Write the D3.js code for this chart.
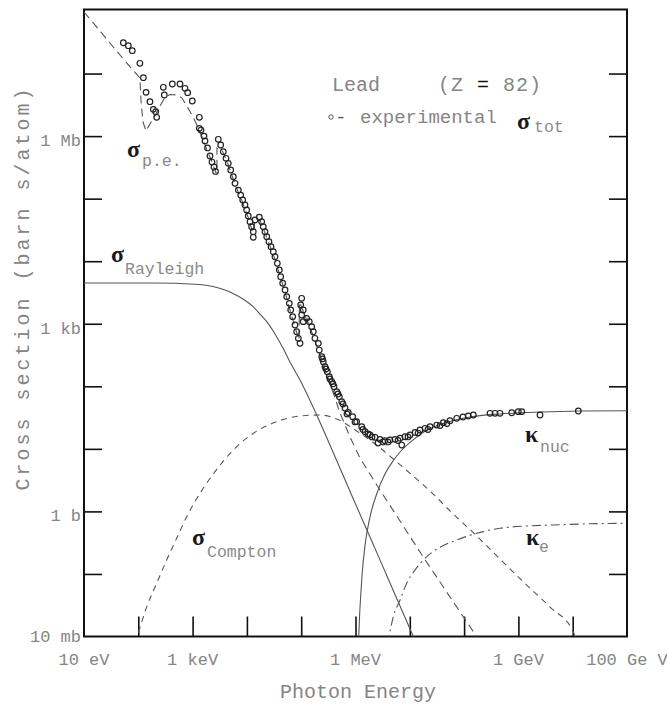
<!DOCTYPE html>
<html>
<head>
<meta charset="utf-8">
<script src="https://cdn.jsdelivr.net/npm/d3@7"></script>
<style>
  body { margin: 0; background: #fff; }
  .chart text { font-family: 'Liberation Mono', monospace; }
</style>
</head>
<body>
<div class="chart"></div>
<script>
// energies in eV, cross sections in barns

const xTicks = [1e2, 1e3, 1e4, 1e5, 1e6, 1e7, 1e8, 1e9, 1e10];
const yTicks = [1e-1, 1, 1e1, 1e2, 1e3, 1e4, 1e5, 1e6, 1e7];
const xLabelValues = [10, 1e3, 1e6, 1e9, 1e11];
const xLabelTexts = ['10 eV', '1 keV', '1 MeV', '1 GeV', '100 Ge V'];
const yLabelValues = [1e6, 1e3, 1, 1e-2];
const yLabelTexts = ['1 Mb', '1 kb', '1 b', '10 mb'];

// experimental total cross section
const sigmaTot = [
  [53.0, 3.11e7], [65.5, 2.79e7], [77.5, 2.32e7], [107, 1.46e7], [124, 8.59e6],
  [139, 5.01e6], [164, 3.55e6], [189, 2.68e6], [209, 2.45e6], [218, 2.00e6],
  [289, 6.03e6], [301, 4.54e6], [423, 6.81e6], [586, 6.81e6], [724, 5.81e6],
  [812, 4.94e6], [987, 3.64e6], [1330, 2.00e6], [1330, 1.33e6], [1429, 1.25e6],
  [1622, 1.00e6], [1692, 8.36e5], [1881, 6.46e5], [2089, 4.81e5], [2276, 3.85e5],
  [2477, 3.21e5], [2642, 2.72e5], [2972, 8.89e5], [3290, 7.21e5], [3674, 5.64e5],
  [4121, 4.42e5], [4539, 3.67e5], [5035, 2.87e5], [5623, 2.24e5], [6039, 1.76e5],
  [6950, 1.37e5], [7691, 1.14e5], [8375, 9.52e4], [9226, 7.92e4], [9908, 6.59e4],
  [1.06e4, 5.28e4], [1.14e4, 4.29e4], [1.22e4, 3.56e4], [1.31e4, 2.96e4], [1.31e4, 2.41e4],
  [1.41e4, 4.56e4], [1.69e4, 5.04e4], [1.87e4, 4.29e4], [2.00e4, 3.56e4], [2.15e4, 2.96e4],
  [2.32e4, 2.47e4], [2.55e4, 2.05e4], [2.78e4, 1.71e4], [3.06e4, 1.42e4], [3.29e4, 1.18e4],
  [3.63e4, 9.25e3], [3.95e4, 7.23e3], [4.19e4, 5.65e3], [4.56e4, 4.44e3], [5.04e4, 3.47e3],
  [5.41e4, 2.71e3], [6.04e4, 2.12e3], [6.41e4, 1.66e3], [6.97e4, 1.30e3], [7.69e4, 955],
  [8.26e4, 746], [8.85e4, 585], [9.51e4, 486], [1.02e5, 2.55e3], [9.79e4, 2.00e3],
  [1.09e5, 1.66e3], [1.02e5, 1.38e3], [1.09e5, 1.08e3], [1.26e5, 1.22e3], [1.41e5, 1.08e3],
  [1.56e5, 897], [1.67e5, 746], [1.79e5, 585], [2.07e5, 486], [2.15e5, 380],
  [2.39e5, 297], [2.47e5, 274], [2.55e5, 247], [2.74e5, 206], [2.86e5, 189],
  [3.03e5, 171], [3.29e5, 143], [3.39e5, 131], [3.65e5, 119], [3.85e5, 109],
  [4.02e5, 98.6], [4.51e5, 82.0], [4.76e5, 75.3], [5.04e5, 68.2], [5.57e5, 56.8],
  [5.89e5, 52.1], [6.41e5, 45.0], [6.97e5, 36.1], [7.36e5, 38.1], [8.87e5, 32.7],
  [9.79e5, 26.9], [1.05e6, 27.2], [1.30e6, 22.6], [1.37e6, 20.4], [1.50e6, 18.8],
  [1.70e6, 17.3], [1.85e6, 16.7], [2.01e6, 15.5], [2.29e6, 15.3], [2.82e6, 14.2],
  [3.21e6, 12.9], [3.49e6, 13.5], [3.97e6, 12.9], [4.32e6, 13.9], [5.33e6, 14.2],
  [6.07e6, 13.6], [6.61e6, 14.8], [8.17e6, 15.6], [9.27e6, 15.5], [1.01e7, 16.7],
  [1.25e7, 18.3], [1.42e7, 17.9], [1.54e7, 20.0], [1.91e7, 21.3], [2.16e7, 20.4],
  [2.36e7, 22.6], [3.13e7, 24.0], [3.60e7, 23.6], [4.14e7, 26.2], [4.84e7, 25.4],
  [5.50e7, 28.2], [7.31e7, 30.8], [9.55e7, 32.3], [1.19e8, 33.5], [1.48e8, 34.8],
  [3.00e8, 37.0], [3.71e8, 37.0], [4.58e8, 37.0], [7.53e8, 37.8], [9.95e8, 39.3],
  [1.15e9, 39.3], [2.50e9, 34.8], [1.27e10, 40.3], [2.60e6, 12.4], [7.10e6, 11.5]
];

const photoElectric = [
  [10, 9.64e7], [16.0, 5.97e7], [30.1, 3.08e7], [56.9, 1.59e7], [107, 8.49e6],
  [112, 3.78e6], [122, 1.68e6], [139, 1.21e6], [164, 1.56e6], [212, 2.25e6],
  [251, 3.03e6], [310, 4.22e6], [384, 4.62e6], [516, 4.54e6], [638, 4.06e6],
  [823, 2.81e6], [1020, 2.02e6], [1200, 1.51e6], [1490, 9.68e5], [1840, 6.00e5],
  [2280, 3.85e5], [2700, 2.57e5], [2810, 2.57e5], [2810, 6.46e5], [3480, 6.00e5],
  [4480, 3.58e5], [6040, 1.71e5], [8130, 9.18e4], [1.05e4, 5.09e4], [1.29e4, 2.82e4],
  [1.41e4, 4.56e4], [1.74e4, 4.56e4], [2.15e4, 2.82e4], [2.66e4, 1.75e4], [3.29e4, 1.08e4],
  [4.07e4, 5.81e3], [5.04e4, 3.22e3], [6.22e4, 1.66e3], [7.69e4, 887], [9.10e4, 550],
  [9.31e4, 2.23e3], [1.18e5, 1.33e3], [1.45e5, 887], [1.79e5, 530], [2.22e5, 317],
  [2.74e5, 189], [3.39e5, 109], [4.19e5, 65.0], [5.19e5, 37.4], [7.92e5, 15.5],
  [1.21e6, 7.14], [2.82e6, 2.20], [6.61e6, 0.703], [1.54e7, 0.224], [3.60e7, 0.0743],
  [8.41e7, 0.0247], [1.73e8, 0.00982], [2.0e8, 0.008]
];

const rayleigh = [
  [10, 4.49e3], [164, 4.49e3], [1370, 4.25e3], [2380, 3.94e3], [3950, 3.47e3],
  [5550, 3.05e3], [8470, 2.49e3], [1.29e4, 1.89e3], [1.74e4, 1.43e3], [2.34e4, 1.07e3],
  [3.29e4, 686], [4.62e4, 409], [6.22e4, 245], [9.51e4, 126], [1.93e5, 34.8],
  [3.85e5, 8.91], [8.63e5, 1.76], [1.85e6, 0.390], [4.32e6, 0.0718], [1.15e7, 0.0102],
  [1.3e7, 0.008]
];

const compton = [
  [85, 0.008], [93.5, 0.0098], [143, 0.030], [218, 0.0710], [333, 0.167], [509, 0.372],
  [778, 0.822], [1370, 1.95], [2400, 3.96], [5620, 9.59], [1.31e4, 17.7],
  [3.54e4, 27.2], [9.51e4, 33.5], [2.22e5, 34.8], [4.51e5, 30.0], [1.05e6, 19.3],
  [2.45e6, 11.5], [4.97e6, 6.89], [1.15e7, 3.68], [2.36e7, 2.12], [5.50e7, 1.02],
  [1.71e8, 0.405], [4.58e8, 0.173], [1.42e9, 0.0665], [3.82e9, 0.0296], [1.03e10, 0.0118],
  [1.10e10, 0.0098]
];

const kappaNuc = [
  [1.12e6, 0.006], [1.19e6, 0.0221], [1.24e6, 0.0413], [1.32e6, 0.0962], [1.50e6, 0.290],
  [1.85e6, 0.815], [2.49e6, 1.97], [3.49e6, 3.96], [4.91e6, 6.40], [6.61e6, 8.91],
  [1.15e7, 13.9], [2.07e7, 20.0], [4.45e7, 25.9], [1.29e8, 32.3], [4.58e8, 36.1],
  [2.50e9, 38.8], [1.36e10, 40.3], [1e11, 40.7]
];

const kappaE = [
  [3.9e6, 0.0075], [4.97e6, 0.0207], [6.61e6, 0.0384], [8.77e6, 0.0710], [1.25e7, 0.116],
  [2.05e7, 0.189], [3.60e7, 0.267], [7.31e7, 0.349], [1.71e8, 0.447], [4.58e8, 0.537],
  [1.42e9, 0.585], [4.40e9, 0.607], [1.57e10, 0.630], [1e11, 0.646]
];

const w = 667;
const h = 705;
const padLeft = 84, padRight = 627, padTop = 9.5, padBottom = 636.5;

const svg = d3.select('.chart')
  .append('svg')
  .attr('width', w)
  .attr('height', h);

const x = d3.scaleLog().domain([10, 1e11]).range([padLeft, padRight]);
const y = d3.scaleLog().domain([1e-2, 1.057e8]).range([padBottom, padTop]);

svg.append('clipPath').attr('id', 'plot')
  .append('rect')
  .attr('x', padLeft).attr('y', padTop)
  .attr('width', padRight - padLeft).attr('height', padBottom - padTop);

// ticks (inward)
const tickStyle = (g) => {
  g.select('.domain').remove();
  g.selectAll('.tick line').attr('stroke', '#111').attr('stroke-width', 1.6);
};

svg.append('g')
  .attr('transform', 'translate(0,' + padBottom + ')')
  .call(d3.axisBottom(x).tickValues(xTicks).tickSize(-20).tickFormat(''))
  .call(tickStyle);

svg.append('g')
  .attr('transform', 'translate(' + padLeft + ',0)')
  .call(d3.axisLeft(y).tickValues(yTicks).tickSize(-18).tickFormat(''))
  .call(tickStyle);

svg.append('g')
  .attr('transform', 'translate(' + padRight + ',0)')
  .call(d3.axisRight(y).tickValues(yTicks).tickSize(-18).tickFormat(''))
  .call(tickStyle);

svg.append('rect')
  .attr('x', padLeft).attr('y', padTop)
  .attr('width', padRight - padLeft).attr('height', padBottom - padTop)
  .attr('fill', 'none')
  .attr('stroke', '#111')
  .attr('stroke-width', 2);

// tick labels
svg.selectAll('.xlab')
  .data(xLabelValues)
  .enter()
  .append('text')
  .attr('class', 'xlab')
  .attr('x', (d) => x(d))
  .attr('y', 665)
  .attr('text-anchor', 'middle')
  .attr('font-size', 17)
  .attr('fill', '#858585')
  .text((d, i) => xLabelTexts[i]);

svg.selectAll('.ylab')
  .data(yLabelValues)
  .enter()
  .append('text')
  .attr('class', 'ylab')
  .attr('x', 81)
  .attr('y', (d) => Math.min(y(d) + 10, 642))
  .attr('text-anchor', 'end')
  .attr('font-size', 17)
  .attr('fill', '#858585')
  .text((d, i) => yLabelTexts[i]);

// axis titles
svg.append('text')
  .attr('x', 358)
  .attr('y', 698)
  .attr('text-anchor', 'middle')
  .attr('font-size', 20)
  .attr('fill', '#858585')
  .text('Photon Energy');

svg.append('text')
  .attr('transform', 'translate(29,288) rotate(-90)')
  .attr('text-anchor', 'middle')
  .attr('font-size', 20)
  .attr('letter-spacing', 3)
  .attr('fill', '#858585')
  .text('Cross section (barn s/atom)');

// curves
const plot = svg.append('g').attr('clip-path', 'url(#plot)');

const line = d3.line()
  .x((d) => x(d[0]))
  .y((d) => y(d[1]));

const smooth = d3.line()
  .x((d) => x(d[0]))
  .y((d) => y(d[1]))
  .curve(d3.curveMonotoneX);

plot.append('path')
  .datum(photoElectric)
  .attr('d', line)
  .attr('fill', 'none')
  .attr('stroke', '#555')
  .attr('stroke-width', 1.1)
  .attr('stroke-dasharray', '8,5');

plot.append('path')
  .datum(rayleigh)
  .attr('d', smooth)
  .attr('fill', 'none')
  .attr('stroke', '#555')
  .attr('stroke-width', 1.1);

plot.append('path')
  .datum(compton)
  .attr('d', smooth)
  .attr('fill', 'none')
  .attr('stroke', '#555')
  .attr('stroke-width', 1.1)
  .attr('stroke-dasharray', '6,5');

plot.append('path')
  .datum(kappaNuc)
  .attr('d', smooth)
  .attr('fill', 'none')
  .attr('stroke', '#555')
  .attr('stroke-width', 1.1);

plot.append('path')
  .datum(kappaE)
  .attr('d', smooth)
  .attr('fill', 'none')
  .attr('stroke', '#555')
  .attr('stroke-width', 1.1)
  .attr('stroke-dasharray', '9,4,2,4');

plot.selectAll('circle')
  .data(sigmaTot)
  .enter()
  .append('circle')
  .attr('class', 'dot')
  .attr('r', 2.8)
  .attr('cx', (d) => x(d[0]))
  .attr('cy', (d) => y(d[1]))
  .attr('fill', 'none')
  .attr('stroke', '#222')
  .attr('stroke-width', 1.2);

// curve labels: greek letter + subscript
const curveLabel = (px, py, greek, sub, subDx, subDy) => {
  svg.append('text')
    .attr('x', px)
    .attr('y', py)
    .attr('font-size', 24)
    .attr('font-weight', 'bold')
    .style('font-family', 'Liberation Serif, serif')
    .attr('fill', '#1a1a1a')
    .text(greek);
  svg.append('text')
    .attr('x', px + subDx)
    .attr('y', py + subDy)
    .attr('font-size', 16.5)
    .attr('fill', '#8a8a8a')
    .text(sub);
};

curveLabel(127, 157, 'σ', 'p.e.', 15, 9);
curveLabel(111, 262, 'σ', 'Rayleigh', 14, 12);
curveLabel(192, 545, 'σ', 'Compton', 15, 12);
curveLabel(525, 442, 'κ', 'nuc', 15, 10);
curveLabel(526, 545, 'κ', 'e', 13, 7);
curveLabel(517, 129, 'σ', 'tot', 17, 3);

// legend text
svg.append('text')
  .attr('x', 332)
  .attr('y', 91)
  .attr('font-size', 20)
  .attr('fill', '#858585')
  .text('Lead');

const zText = svg.append('text')
  .attr('x', 438)
  .attr('y', 91)
  .attr('font-size', 20)
  .attr('letter-spacing', 1)
  .attr('fill', '#858585');
zText.append('tspan').text('(Z ');
zText.append('tspan').attr('fill', '#111').text('=');
zText.append('tspan').text(' 82)');

svg.append('circle')
  .attr('cx', 331)
  .attr('cy', 117)
  .attr('r', 2.2)
  .attr('fill', 'none')
  .attr('stroke', '#555');

svg.append('text')
  .attr('x', 335)
  .attr('y', 123)
  .attr('font-size', 19)
  .attr('fill', '#555')
  .text('-');

svg.append('text')
  .attr('x', 360)
  .attr('y', 123)
  .attr('font-size', 19)
  .attr('fill', '#858585')
  .text('experimental');
</script>
</body>
</html>
